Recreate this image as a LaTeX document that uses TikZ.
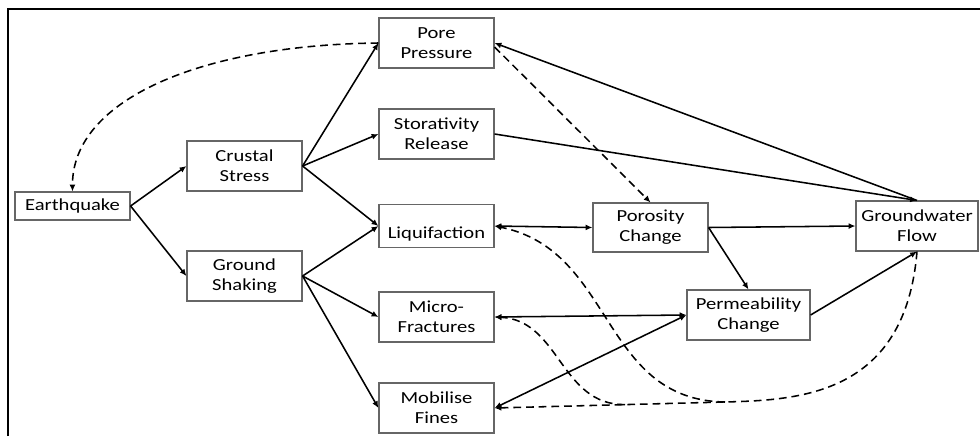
\documentclass[tikz,border=0pt]{standalone}
\usepackage{fontspec}
\setmainfont{Carlito}[FakeStretch=1.22]
\usetikzlibrary{arrows.meta, calc}

\tikzset{
  box/.style={draw=black!60, line width=0.8pt, fill=white, align=center, inner sep=0pt,
    minimum width=2.875cm, minimum height=1.25cm, font=\fontsize{12}{14.2}\selectfont},
  link/.style={line width=1.1pt, -{Latex[length=1.7mm,width=1.5mm]}},
  both/.style={link, {Latex[length=1.7mm,width=1.5mm]}-{Latex[length=1.7mm,width=1.5mm]}},
  feedback/.style={link, dash pattern=on 5.5pt off 3.5pt},
}

\begin{document}
\begin{tikzpicture}[x=0.025cm, y=-0.025cm]
  \useasboundingbox (0,0) rectangle (980,436);

  % Frame
  \draw[line width=0.8pt] (8,436) -- (8,9) -- (980,9);

  % Causes
  \node[box, minimum height=0.7cm] (eq) at (72.5,206) {Earthquake};
  \node[box] (cs) at (244.5,166) {Crustal\\Stress};
  \node[box] (gs) at (244.5,276) {Ground\\Shaking};

  % Processes
  \node[box] (pp) at (436.5,43) {Pore\\Pressure};
  \node[box] (sr) at (436.5,134) {Storativity\\Release};
  \node[box, minimum height=1.075cm, text height=0.6cm, text depth=0pt] (lq) at (436.5,226) {Liquifaction};
  \node[box] (mfr) at (436.5,317) {Micro-\\Fractures};
  \node[box] (mf) at (436.5,408) {Mobilise\\Fines};

  % Effects
  \node[box, minimum height=1.225cm] (pc) at (650.5,227.5) {Porosity\\Change};
  \node[box, minimum width=3.075cm] (perm) at (748.5,315) {Permeability\\Change};
  \node[box, minimum width=3.05cm] (gw) at (917,226) {Groundwater\\Flow};

  % Solid links
  \draw[link] (eq.east) -- (cs.west);
  \draw[link] (eq.east) -- (gs.west);
  \draw[link] (cs.east) -- (pp.west);
  \draw[link] (cs.east) -- (sr.west);
  \draw[link] (cs.east) -- (lq.west);
  \draw[link] (gs.east) -- (lq.west);
  \draw[link] (gs.east) -- (mfr.west);
  \draw[link] (gs.east) -- (mf.west);
  \draw[link] (gw.north) -- (pp.east);
  \draw[link] (sr.east) -- (gw.north);
  \draw[both] (lq.east) -- (pc.west);
  \draw[link] (pc.east) -- (gw.west);
  \draw[link] (pc.east) -- (perm.north);
  \draw[link] (perm.east) -- (gw.south);
  \draw[both] (mfr.east) -- (perm.west);
  \draw[both] (mf.east) -- (perm.west);

  % Dashed feedbacks
  \draw[feedback] (pp.west) .. controls (200,45) and (72,100) .. (eq.north);
  \draw[feedback] ([yshift=-0.1cm]pp.east) -- (pc.north);
  \coordinate (j1) at (725,402);
  \coordinate (j2) at (625,404.6);
  \draw[feedback] (gw.south) .. controls (905,395) and (800,400) .. (j1) -- (mf.east);
  \draw[feedback] (j1) .. controls (600,400) and (615,250) .. (lq.east);
  \draw[feedback] (j2) .. controls (560,405) and (560,320) .. (mfr.east);
\end{tikzpicture}
\end{document}
